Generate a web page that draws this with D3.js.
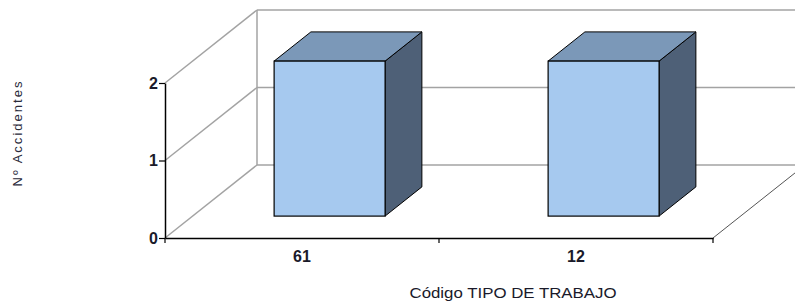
<!DOCTYPE html>
<html>
<head>
<meta charset="utf-8">
<script src="https://cdn.jsdelivr.net/npm/d3@7"></script>
<style>
  body { margin: 0; background: #fff; }
  svg { display: block; font-family: "Liberation Sans", Arial, sans-serif; }
</style>
</head>
<body>
<div id="canvas"></div>
<script>
let categories = ['61', '12'];
let accidentes = [2, 2];
let yTicks = [0, 1, 2];

let width = 795, height = 305;

let svg = d3.select('#canvas').append('svg')
  .attr('width', width)
  .attr('height', height);

// front plane scales
let x = d3.scaleBand().domain(categories).range([165, 713]).paddingInner(0).paddingOuter(0);
let y = d3.scaleLinear().domain([0, 2]).range([238, 83]);
// depth: 0 = front, 1 = back wall
let dX = d3.scaleLinear().domain([0, 1]).range([0, 92]);
let dY = d3.scaleLinear().domain([0, 1]).range([0, -73]);

let grid = '#a3a3a3';

// left wall diagonals + back wall horizontals
yTicks.forEach(function(t) {
  svg.append('line')
    .attr('x1', x.range()[0]).attr('y1', y(t))
    .attr('x2', x.range()[0] + dX(1)).attr('y2', y(t) + dY(1))
    .attr('stroke', grid).attr('stroke-width', 1.5);
  svg.append('line')
    .attr('x1', x.range()[0] + dX(1)).attr('y1', y(t) + dY(1))
    .attr('x2', x.range()[1] + dX(1)).attr('y2', y(t) + dY(1))
    .attr('stroke', grid).attr('stroke-width', 1.5);
});

// back wall left edge
svg.append('line')
  .attr('x1', x.range()[0] + dX(1)).attr('y1', y(0) + dY(1))
  .attr('x2', x.range()[0] + dX(1)).attr('y2', y(2) + dY(1))
  .attr('stroke', grid).attr('stroke-width', 1.5);

// floor right edge
svg.append('line')
  .attr('x1', x.range()[1]).attr('y1', y(0))
  .attr('x2', x.range()[1] + dX(1)).attr('y2', y(0) + dY(1))
  .attr('stroke', '#555').attr('stroke-width', 1);

// bars
let barW = x.bandwidth() * 0.405;
let d0 = 0.30, d1 = 0.70;

let bars = svg.selectAll('g.bar')
  .data(accidentes)
  .enter()
  .append('g')
  .attr('class', 'bar');

bars.each(function(d, i) {
  let g = d3.select(this);
  let cx = x(categories[i]) + x.bandwidth() / 2;
  let xl = cx - barW / 2 + dX(d0), xr = cx + barW / 2 + dX(d0);
  let yt = y(d) + dY(d0), yb = y(0) + dY(d0);
  let ox = dX(d1) - dX(d0), oy = dY(d1) - dY(d0);

  // side
  g.append('path')
    .attr('d', d3.line()([[xr, yt], [xr + ox, yt + oy], [xr + ox, yb + oy], [xr, yb]]) + 'Z')
    .attr('fill', '#4e6077').attr('stroke', '#000').attr('stroke-width', 1);
  // top
  g.append('path')
    .attr('d', d3.line()([[xl, yt], [xl + ox, yt + oy], [xr + ox, yt + oy], [xr, yt]]) + 'Z')
    .attr('fill', '#7b98b8').attr('stroke', '#000').attr('stroke-width', 1);
  // front
  g.append('rect')
    .attr('x', xl).attr('y', yt)
    .attr('width', xr - xl).attr('height', yb - yt)
    .attr('fill', '#a6c9ef').attr('stroke', '#000').attr('stroke-width', 1.2);
});

// y axis
let yAxis = svg.append('g')
  .attr('transform', 'translate(' + x.range()[0] + ',0)')
  .call(d3.axisLeft(y).tickValues(yTicks).tickFormat(d3.format('d')).tickSize(6).tickSizeOuter(0));
yAxis.select('.domain').attr('stroke', '#000').attr('stroke-width', 1.5);
yAxis.selectAll('.tick line').attr('stroke', '#000').attr('stroke-width', 1.2);
yAxis.selectAll('.tick text')
  .attr('x', -7)
  .style('font-size', '16px').style('font-weight', 'bold').attr('fill', '#1a1a2a')
  .style('font-family', '"Liberation Sans", Arial, sans-serif');

// x axis
let xAxis = svg.append('g')
  .attr('transform', 'translate(0,' + y(0) + ')')
  .call(d3.axisBottom(x).tickSize(0).tickSizeOuter(0));
xAxis.select('.domain').attr('stroke', '#000').attr('stroke-width', 1.5);
xAxis.selectAll('.tick text')
  .attr('y', 13)
  .style('font-size', '16px').style('font-weight', 'bold').attr('fill', '#1a1a2a')
  .style('font-family', '"Liberation Sans", Arial, sans-serif');

// category separator ticks
let sep = [x.range()[0], x(categories[1]), x.range()[1]];
svg.selectAll('line.sep')
  .data(sep)
  .enter()
  .append('line')
  .attr('class', 'sep')
  .attr('x1', function(d) { return d; })
  .attr('x2', function(d) { return d; })
  .attr('y1', y(0))
  .attr('y2', y(0) + 5)
  .attr('stroke', '#000')
  .attr('stroke-width', 1.2);

// axis titles
svg.append('text')
  .attr('transform', 'translate(22,134) rotate(-90)')
  .attr('text-anchor', 'middle')
  .attr('textLength', 105)
  .attr('lengthAdjust', 'spacing')
  .style('font-size', '13px')
  .attr('fill', '#2a2a3a')
  .text('Nº Accidentes');

svg.append('text')
  .attr('x', 513)
  .attr('y', 298)
  .attr('text-anchor', 'middle')
  .attr('textLength', 207)
  .attr('lengthAdjust', 'spacingAndGlyphs')
  .style('font-size', '15px')
  .attr('fill', '#1a1a2a')
  .text('Código TIPO DE TRABAJO');
</script>
</body>
</html>
